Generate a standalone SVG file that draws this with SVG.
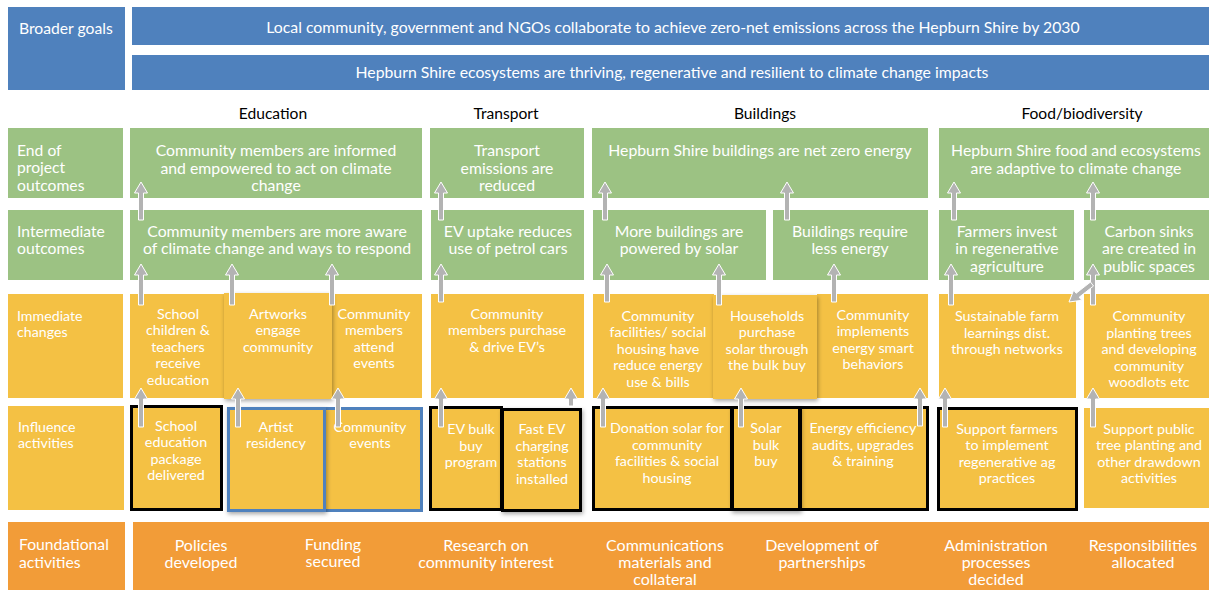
<svg xmlns="http://www.w3.org/2000/svg" width="1209" height="590" viewBox="0 0 1209 590">
<style>
text{font-family:Lato,"Open Sans","Liberation Sans",sans-serif;fill:#fff}
.lb{font-size:15.7px}
.ls{font-size:14.2px}
.c{text-anchor:middle}
.bn{font-size:15.8px}
.hd{font-size:15.6px;fill:#000}
.g{font-size:15.8px}
.y{font-size:14.3px}
.o{font-size:16px}
.blue{fill:#4f81bd}
.green{fill:#9cc283}
.yel{fill:#f4c144}
.org{fill:#f29c38}
.bk{stroke:#000;stroke-width:3}
.bb{stroke:#4f81bd;stroke-width:3}
.ar{fill:#b3b3b3;stroke:#fff;stroke-width:1;stroke-linejoin:miter}
</style>
<defs>
<filter id="sh" x="-15%" y="-15%" width="140%" height="140%">
<feDropShadow dx="1" dy="2" stdDeviation="2" flood-color="#000" flood-opacity="0.35"/>
</filter>
</defs>
<rect width="1209" height="590" fill="#fff"/>

<!-- Row labels -->
<g id="label-broader-goals"><rect class="blue" x="8" y="7" width="117" height="83"/><text class="lb" x="19" y="34">Broader goals</text></g>
<g id="label-end-of-project"><rect class="green" x="8" y="128" width="115" height="70"/><text class="lb"><tspan x="17" y="155.5">End of</tspan><tspan x="17" y="173">project</tspan><tspan x="17" y="190.5">outcomes</tspan></text></g>
<g id="label-intermediate"><rect class="green" x="8" y="210" width="115" height="70"/><text class="lb"><tspan x="17" y="236.5">Intermediate</tspan><tspan x="17" y="254">outcomes</tspan></text></g>
<g id="label-immediate"><rect class="yel" x="8" y="294" width="115" height="104"/><text class="ls"><tspan x="17" y="320.5">Immediate</tspan><tspan x="17" y="336.5">changes</tspan></text></g>
<g id="label-influence"><rect class="yel" x="8" y="406" width="116" height="104"/><text class="ls"><tspan x="18" y="431.5">Influence</tspan><tspan x="18" y="448">activities</tspan></text></g>
<g id="label-foundational"><rect class="org" x="8" y="522" width="117" height="68"/><text class="lb"><tspan x="19" y="550">Foundational</tspan><tspan x="19" y="567.5">activities</tspan></text></g>

<!-- Broader goals -->
<g id="goal-zero-net"><rect class="blue" x="132" y="7" width="1077" height="38"/><text class="bn c" x="673" y="32.5">Local community, government and NGOs collaborate to achieve zero-net emissions across the Hepburn Shire by 2030</text></g>
<g id="goal-ecosystems"><rect class="blue" x="132" y="55" width="1077" height="35"/><text class="bn c" x="672" y="78">Hepburn Shire ecosystems are thriving, regenerative and resilient to climate change impacts</text></g>

<!-- Headers -->
<g id="headers">
<text class="hd c" x="273" y="119">Education</text>
<text class="hd c" x="506" y="119">Transport</text>
<text class="hd c" x="765" y="119">Buildings</text>
<text class="hd c" x="1082" y="119">Food/biodiversity</text>
</g>

<!-- End of project outcomes -->
<g id="eop-education"><rect class="green" x="130" y="128" width="292" height="70"/><text class="g c"><tspan x="276" y="155.5">Community members are informed</tspan><tspan x="276" y="173.5">and empowered to act on climate</tspan><tspan x="276" y="191">change</tspan></text></g>
<g id="eop-transport"><rect class="green" x="430" y="128" width="154" height="70"/><text class="g c"><tspan x="507" y="155.5">Transport</tspan><tspan x="507" y="173.5">emissions are</tspan><tspan x="507" y="191">reduced</tspan></text></g>
<g id="eop-buildings"><rect class="green" x="592" y="128" width="336" height="70"/><text class="g c" x="760" y="155.5">Hepburn Shire buildings are net zero energy</text></g>
<g id="eop-food"><rect class="green" x="939" y="128" width="270" height="70"/><text class="g c"><tspan x="1076" y="155.5">Hepburn Shire food and ecosystems</tspan><tspan x="1076" y="173.5">are adaptive to climate change</tspan></text></g>

<!-- Intermediate outcomes -->
<g id="io-aware"><rect class="green" x="130" y="210" width="292" height="70"/><text class="g c"><tspan x="277" y="236.5">Community members are more aware</tspan><tspan x="277" y="254">of climate change and ways to respond</tspan></text></g>
<g id="io-ev"><rect class="green" x="431" y="210" width="153" height="70"/><text class="g c"><tspan x="508" y="236.5">EV uptake reduces</tspan><tspan x="508" y="254">use of petrol cars</tspan></text></g>
<g id="io-solar"><rect class="green" x="593" y="210" width="173" height="70"/><text class="g c"><tspan x="679" y="236.5">More buildings are</tspan><tspan x="679" y="254">powered by solar</tspan></text></g>
<g id="io-less-energy"><rect class="green" x="773" y="210" width="155" height="70"/><text class="g c"><tspan x="850" y="236.5">Buildings require</tspan><tspan x="850" y="254">less energy</tspan></text></g>
<g id="io-farmers"><rect class="green" x="939" y="210" width="135" height="70"/><text class="g c"><tspan x="1007" y="236.5">Farmers invest</tspan><tspan x="1007" y="254">in regenerative</tspan><tspan x="1007" y="271.5">agriculture</tspan></text></g>
<g id="io-carbon"><rect class="green" x="1084" y="210" width="125" height="70"/><text class="g c"><tspan x="1149" y="236.5">Carbon sinks</tspan><tspan x="1149" y="254">are created in</tspan><tspan x="1149" y="271.5">public spaces</tspan></text></g>

<!-- Immediate changes -->
<g id="ic-school"><rect class="yel" x="130" y="294" width="94" height="104"/><text class="y c"><tspan x="178" y="318.5">School</tspan><tspan x="178" y="335">children &amp;</tspan><tspan x="178" y="351.5">teachers</tspan><tspan x="178" y="368">receive</tspan><tspan x="178" y="384.5">education</tspan></text></g>
<g id="ic-community-events"><rect class="yel" x="332" y="294" width="90" height="104"/><text class="y c"><tspan x="374" y="318.5">Community</tspan><tspan x="374" y="335">members</tspan><tspan x="374" y="351.5">attend</tspan><tspan x="374" y="368">events</tspan></text></g>
<g id="ic-artworks"><rect class="yel" x="224" y="293" width="108" height="106" filter="url(#sh)"/><text class="y c"><tspan x="278" y="318.5">Artworks</tspan><tspan x="278" y="335">engage</tspan><tspan x="278" y="351.5">community</tspan></text></g>
<g id="ic-ev"><rect class="yel" x="431" y="294" width="153" height="104"/><text class="y c"><tspan x="507" y="318.5">Community</tspan><tspan x="507" y="335">members purchase</tspan><tspan x="507" y="351.5">&amp; drive EV’s</tspan></text></g>
<g id="ic-facilities"><rect class="yel" x="593" y="294" width="121" height="104"/><text class="y c"><tspan x="658" y="320.5">Community</tspan><tspan x="658" y="337">facilities/ social</tspan><tspan x="658" y="353.5">housing have</tspan><tspan x="658" y="370">reduce energy</tspan><tspan x="658" y="386.5">use &amp; bills</tspan></text></g>
<g id="ic-implements"><rect class="yel" x="817" y="294" width="111" height="104"/><text class="y c"><tspan x="873" y="319.5">Community</tspan><tspan x="873" y="336">implements</tspan><tspan x="873" y="352.5">energy smart</tspan><tspan x="873" y="369">behaviors</tspan></text></g>
<g id="ic-households"><rect class="yel" x="713" y="295" width="104" height="104" filter="url(#sh)"/><text class="y c"><tspan x="767" y="320.5">Households</tspan><tspan x="767" y="337">purchase</tspan><tspan x="767" y="353.5">solar through</tspan><tspan x="767" y="370">the bulk buy</tspan></text></g>
<g id="ic-farm"><rect class="yel" x="939" y="294" width="137" height="104"/><text class="y c"><tspan x="1007" y="321">Sustainable farm</tspan><tspan x="1007" y="337.5">learnings dist.</tspan><tspan x="1007" y="354">through networks</tspan></text></g>
<g id="ic-planting"><rect class="yel" x="1084" y="294" width="125" height="104"/><text class="y c"><tspan x="1149" y="321">Community</tspan><tspan x="1149" y="337.5">planting trees</tspan><tspan x="1149" y="354">and developing</tspan><tspan x="1149" y="370.5">community</tspan><tspan x="1149" y="387">woodlots etc</tspan></text></g>

<!-- Influence activities -->
<g id="ia-school-package"><rect class="yel bk" x="131.5" y="406.5" width="90" height="103"/><text class="y c"><tspan x="176" y="430.5">School</tspan><tspan x="176" y="447">education</tspan><tspan x="176" y="463.5">package</tspan><tspan x="176" y="480">delivered</tspan></text></g>
<g id="ia-community-events"><rect class="yel bb" x="324.5" y="408.5" width="97" height="102"/><text class="y c"><tspan x="370" y="431.5">Community</tspan><tspan x="370" y="448">events</tspan></text></g>
<g id="ia-artist"><rect class="yel bb" x="228.5" y="408.5" width="96" height="102" filter="url(#sh)"/><text class="y c"><tspan x="276" y="431.5">Artist</tspan><tspan x="276" y="448">residency</tspan></text></g>
<g id="ia-ev-bulk"><rect class="yel bk" x="430.5" y="407.5" width="71" height="102"/><text class="y c"><tspan x="471" y="434">EV bulk</tspan><tspan x="471" y="450.5">buy</tspan><tspan x="471" y="467">program</tspan></text></g>
<g id="ia-fast-ev"><rect class="yel bk" x="502.5" y="409.5" width="78" height="101" filter="url(#sh)"/><text class="y c"><tspan x="542" y="434">Fast EV</tspan><tspan x="542" y="450.5">charging</tspan><tspan x="542" y="467">stations</tspan><tspan x="542" y="483.5">installed</tspan></text></g>
<g id="ia-donation"><rect class="yel bk" x="593.5" y="407.5" width="138" height="102"/><text class="y c"><tspan x="667" y="433">Donation solar for</tspan><tspan x="667" y="449.5">community</tspan><tspan x="667" y="466">facilities &amp; social</tspan><tspan x="667" y="482.5">housing</tspan></text></g>
<g id="ia-efficiency"><rect class="yel bk" x="800.5" y="407.5" width="127" height="102"/><text class="y c"><tspan x="863" y="433">Energy efficiency</tspan><tspan x="863" y="449.5">audits, upgrades</tspan><tspan x="863" y="466">&amp; training</tspan></text></g>
<g id="ia-solar-bulk"><rect class="yel bk" x="732.5" y="407.5" width="67" height="102" filter="url(#sh)"/><text class="y c"><tspan x="766" y="433">Solar</tspan><tspan x="766" y="449.5">bulk</tspan><tspan x="766" y="466">buy</tspan></text></g>
<g id="ia-farmers"><rect class="yel bk" x="938.5" y="408.5" width="138" height="101"/><text class="y c"><tspan x="1007" y="433.5">Support farmers</tspan><tspan x="1007" y="450">to implement</tspan><tspan x="1007" y="466.5">regenerative ag</tspan><tspan x="1007" y="483">practices</tspan></text></g>
<g id="ia-public-trees"><rect class="yel" x="1084" y="408" width="125" height="100"/><text class="y c"><tspan x="1149" y="433.5">Support public</tspan><tspan x="1149" y="450">tree planting and</tspan><tspan x="1149" y="466.5">other drawdown</tspan><tspan x="1149" y="483">activities</tspan></text></g>

<!-- Foundational activities -->
<g id="foundational"><rect class="org" x="133" y="522" width="1076" height="68"/>
<text class="o c"><tspan x="201" y="551">Policies</tspan><tspan x="201" y="568">developed</tspan></text>
<text class="o c"><tspan x="333" y="550">Funding</tspan><tspan x="333" y="567">secured</tspan></text>
<text class="o c"><tspan x="486" y="551">Research on</tspan><tspan x="486" y="568">community interest</tspan></text>
<text class="o c"><tspan x="665" y="551">Communications</tspan><tspan x="665" y="568">materials and</tspan><tspan x="665" y="585">collateral</tspan></text>
<text class="o c"><tspan x="822" y="551">Development of</tspan><tspan x="822" y="568">partnerships</tspan></text>
<text class="o c"><tspan x="996" y="551">Administration</tspan><tspan x="996" y="568">processes</tspan><tspan x="996" y="585">decided</tspan></text>
<text class="o c"><tspan x="1143" y="551">Responsibilities</tspan><tspan x="1143" y="568">allocated</tspan></text>
</g>

<!-- Connectors -->
<g id="connectors">
<path class="ar" d="M141,182l6.5,11h-4V220h-5V193h-4z"/>
<path class="ar" d="M441,182l6.5,11h-4V220h-5V193h-4z"/>
<path class="ar" d="M605,182l6.5,11h-4V220h-5V193h-4z"/>
<path class="ar" d="M787,182l6.5,11h-4V220h-5V193h-4z"/>
<path class="ar" d="M954,182l6.5,11h-4V220h-5V193h-4z"/>
<path class="ar" d="M1093,182l6.5,11h-4V220h-5V193h-4z"/>

<path class="ar" d="M141,264l6.5,11h-4V305h-5V275h-4z"/>
<path class="ar" d="M232,264l6.5,11h-4V305h-5V275h-4z"/>
<path class="ar" d="M332,264l6.5,11h-4V305h-5V275h-4z"/>
<path class="ar" d="M441,264l6.5,11h-4V302h-5V275h-4z"/>
<path class="ar" d="M607,264l6.5,11h-4V302h-5V275h-4z"/>
<path class="ar" d="M719,264l6.5,11h-4V305h-5V275h-4z"/>
<path class="ar" d="M834,264l6.5,11h-4V302h-5V275h-4z"/>
<path class="ar" d="M951,264l6.5,11h-4V305h-5V275h-4z"/>
<path class="ar" d="M1093,264l6.5,11h-4V305h-5V275h-4z"/>
<path class="ar" d="M1069,302L1081.7,300.3L1079.2,297.2L1093.5,286L1090.5,282L1076.1,293.3L1073.7,290.1Z"/>

<path class="ar" d="M141,388l6.5,11h-4V427h-5V399h-4z"/>
<path class="ar" d="M238,388l6.5,11h-4V427h-5V399h-4z"/>
<path class="ar" d="M338,388l6.5,11h-4V427h-5V399h-4z"/>
<path class="ar" d="M441,388l6.5,11h-4V427h-5V399h-4z"/>
<path class="ar" d="M571,388l6.5,11h-4V406h-5V399h-4z"/>
<path class="ar" d="M603,388l6.5,11h-4V427h-5V399h-4z"/>
<path class="ar" d="M741,388l6.5,11h-4V427h-5V399h-4z"/>
<path class="ar" d="M920,388l6.5,11h-4V426h-5V399h-4z"/>
<path class="ar" d="M945,388l6.5,11h-4V427h-5V399h-4z"/>
<path class="ar" d="M1093,388l6.5,11h-4V427h-5V399h-4z"/>
</g>
</svg>
